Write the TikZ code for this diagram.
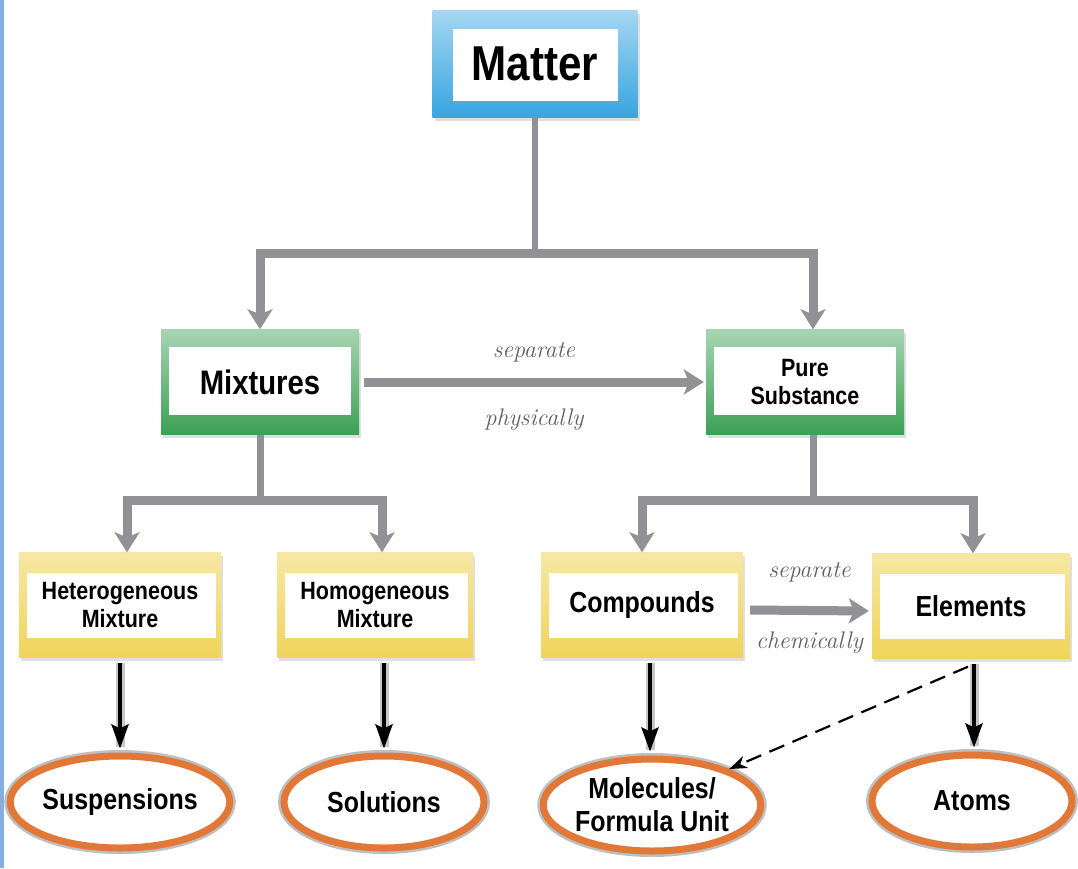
\documentclass[tikz,border=0pt]{standalone}
\usepackage{fontspec}
\newfontfamily\boxfont[FakeStretch=0.86]{Liberation Sans}
\usetikzlibrary{arrows.meta}
\usetikzlibrary{shapes.geometric, shadows}
\definecolor{stripblue}{RGB}{134,174,224}
\definecolor{mblue}{RGB}{55,165,225}
\definecolor{mgreen}{RGB}{60,160,85}
\definecolor{myellow}{RGB}{240,212,90}
\definecolor{morange}{RGB}{225,120,55}
\definecolor{pipegray}{RGB}{145,145,150}
\definecolor{notegray}{RGB}{95,95,95}

\tikzset{
  inset/.style n args={4}{path picture={\fill[white] ([xshift=#1pt,yshift=-#2pt]path picture bounding box.north west) rectangle ([xshift=-#3pt,yshift=#4pt]path picture bounding box.south east);}},
  panel/.style={rectangle, inner sep=0pt, minimum width=200pt, minimum height=105pt, align=center,
    drop shadow={opacity=0.25, shadow xshift=2pt, shadow yshift=-3pt}},
  bluebox/.style={panel, minimum width=205pt, minimum height=107pt, top color=mblue!45, bottom color=mblue,
    inset={20}{18}{20}{17}, font=\boxfont\bfseries\fontsize{49}{52}\selectfont},
  greenbox/.style={panel, minimum width=198pt, top color=mgreen!45, bottom color=mgreen,
    inset={8}{17}{8}{20}, font=\boxfont\bfseries\fontsize{34}{36}\selectfont},
  yellowbox/.style={panel, minimum width=202pt, top color=myellow!55, bottom color=myellow,
    inset={8}{20}{5}{20}, font=\boxfont\bfseries\fontsize{25}{28}\selectfont},
  oval/.style={ellipse, inner sep=0pt, minimum width=200pt, minimum height=92pt, align=center,
    fill=white, draw=morange, line width=7pt, preaction={draw=black!25, line width=12pt},
    font=\boxfont\bfseries\fontsize{29}{33}\selectfont},
  pipe/.style={draw=pipegray, line width=9pt},
  pipearrow/.style={pipe, -{Stealth[length=20pt,width=25pt,inset=5pt]}},
  down/.style={line width=4pt, -{Stealth[length=24pt,width=17pt,inset=4pt]}, shorten <=5pt, shorten >=4pt},
  halo/.style={draw=black!22, line width=9pt, shorten <=5pt, shorten >=6pt},
  dashline/.style={line width=2.2pt, dash pattern=on 16pt off 9pt, -{Stealth[length=18pt,width=13pt]}},
  note/.style={text=notegray, font=\itshape\fontsize{24}{26}\selectfont}
}

\begin{document}
\begin{tikzpicture}[x=1pt,y=-1pt]
\useasboundingbox (0,0) rectangle (1078,868);
\fill[stripblue] (0,0) rectangle (4,868);

% boxes
\node[bluebox] (matter) at (535,64) {Matter};
\node[greenbox] (mix) at (260,382) {Mixtures};
\node[greenbox, font=\boxfont\bfseries\fontsize{25}{28}\selectfont] (pure) at (805,382) {Pure\\Substance};
\node[yellowbox] (het) at (120,605) {Heterogeneous\\Mixture};
\node[yellowbox, minimum width=196pt] (hom) at (375,605) {Homogeneous\\Mixture};
\node[yellowbox, font=\boxfont\bfseries\fontsize{29}{32}\selectfont] (comp) at (642,605) {Compounds};
\node[yellowbox, minimum width=198pt, font=\boxfont\bfseries\fontsize{29}{32}\selectfont] (elem) at (971,606) {Elements};

\node[oval] (susp) at (120,802) {Suspensions};
\node[oval] (sol) at (384,802) {Solutions};
\node[oval] (mol) at (652,805) {Molecules/\\Formula Unit};
\node[oval] (atoms) at (972,801) {Atoms};

% gray pipes
\coordinate (topbar) at (535,253);
\draw[pipe, line width=6pt] (matter.south) -- (topbar);
\draw[pipearrow] (topbar) -| (mix.north);
\draw[pipearrow] (topbar) -| ([xshift=8pt]pure.north);

\coordinate (mixbar) at (260,500);
\draw[pipe, line width=7pt] (mix.south) -- (mixbar);
\draw[pipearrow] (mixbar) -| ([xshift=7pt]het.north);
\draw[pipearrow] (mixbar) -| ([xshift=7pt]hom.north);

\coordinate (purebar) at (813,500);
\draw[pipe, line width=7pt] ([xshift=8pt]pure.south) -- (purebar);
\draw[pipearrow] (purebar) -| (comp.north);
\draw[pipearrow] (purebar) -| ([xshift=2pt]elem.north);

\draw[pipearrow] ([xshift=5pt]mix.east) -- ([xshift=-2pt]pure.west)
  node[midway, above=12pt, note] {separate}
  node[midway, below=19pt, note] {physically};
\draw[pipearrow] ([xshift=7pt,yshift=-5pt]comp.east) -- ([xshift=-3pt,yshift=-5pt]elem.west)
  node[midway, above=21pt, note] {separate}
  node[midway, below=13pt, note] {chemically};

% black arrows
\foreach \a/\b/\dx in {het/susp/0, hom/sol/0, comp/mol/-2, elem/atoms/2}{
  \draw[halo] ([xshift=\dx pt]\b.north |- \a.south) -- ([xshift=\dx pt]\b.north);
  \draw[down] ([xshift=\dx pt]\b.north |- \a.south) -- ([xshift=\dx pt]\b.north);
}
\draw[dashline] ([xshift=-3pt,yshift=-8pt]elem.south) -- (mol.25);
\end{tikzpicture}
\end{document}
